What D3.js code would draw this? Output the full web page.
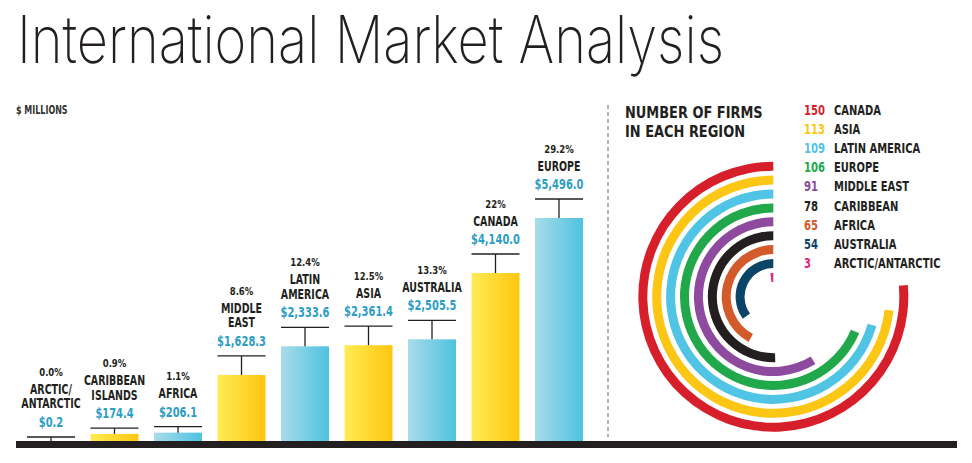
<!DOCTYPE html>
<html>
<head>
<meta charset="utf-8">
<script src="https://cdn.jsdelivr.net/npm/d3@7/dist/d3.min.js"></script>
<style>
  html, body { margin: 0; padding: 0; background: #fff; }
  svg { display: block; }
</style>
</head>
<body>
<svg id="chart" width="972" height="463"></svg>
<script>
// ---------- DATA ----------
const regions = ["ARCTIC/ANTARCTIC", "CARIBBEAN ISLANDS", "AFRICA", "MIDDLE EAST", "LATIN AMERICA", "ASIA", "AUSTRALIA", "CANADA", "EUROPE"];
const regionLines = [["ARCTIC/", "ANTARCTIC"], ["CARIBBEAN", "ISLANDS"], ["AFRICA"], ["MIDDLE", "EAST"], ["LATIN", "AMERICA"], ["ASIA"], ["AUSTRALIA"], ["CANADA"], ["EUROPE"]];
const revenue = [0.2, 174.4, 206.1, 1628.3, 2333.6, 2361.4, 2505.5, 4140.0, 5496.0];
const shareLabels = ["0.0%", "0.9%", "1.1%", "8.6%", "12.4%", "12.5%", "13.3%", "22%", "29.2%"];

const firmRegions = ["CANADA", "ASIA", "LATIN AMERICA", "EUROPE", "MIDDLE EAST", "CARIBBEAN", "AFRICA", "AUSTRALIA", "ARCTIC/ANTARCTIC"];
const firmCounts = [150, 113, 109, 106, 91, 78, 65, 54, 3];
const firmColors = ["#d71f2b", "#fcc614", "#4fc4e4", "#21a84a", "#8e4a9e", "#231f20", "#d35a2a", "#0b4468", "#e4267c"];

const title = "International Market Analysis";
const unitLabel = "$ MILLIONS";
const legendTitle = ["NUMBER OF FIRMS", "IN EACH REGION"];

// ---------- SETUP ----------
const COND = "'Liberation Sans Narrow', 'DejaVu Sans Condensed', 'Roboto Condensed', 'Arial Narrow', sans-serif";
const DARK = "#231f20";
const TEAL = "#2c9dc4";

const svg = d3.select("#chart");
svg.append("rect").attr("width", 972).attr("height", 463).attr("fill", "#fff");

const defs = svg.append("defs");
const gradY = defs.append("linearGradient").attr("id", "gY").attr("x1", "0").attr("x2", "1").attr("y1", "0").attr("y2", "0");
gradY.append("stop").attr("offset", "0").attr("stop-color", "#ffeb55");
gradY.append("stop").attr("offset", "1").attr("stop-color", "#fdc60f");
const gradB = defs.append("linearGradient").attr("id", "gB").attr("x1", "0").attr("x2", "1").attr("y1", "0").attr("y2", "0");
gradB.append("stop").attr("offset", "0").attr("stop-color", "#a8dcea");
gradB.append("stop").attr("offset", "1").attr("stop-color", "#4ec2e0");

// condensed text helper (horizontal squeeze keeps the text real)
function ctext(g, x, y, str, o) {
  return g.append("text")
    .attr("transform", `translate(${x},${y}) scale(${o.sx || 0.8},1)`)
    .attr("text-anchor", o.anchor || "start")
    .attr("font-family", COND)
    .attr("font-weight", o.weight || "bold")
    .attr("font-size", o.size)
    .attr("fill", o.fill || DARK)
    .text(str);
}

// Title
svg.append("text")
  .attr("x", 17).attr("y", 63)
  .attr("font-family", "Inter, Roboto, Lato, sans-serif")
  .attr("font-weight", 200)
  .attr("font-size", 66)
  .attr("fill", DARK)
  .attr("textLength", 707)
  .attr("lengthAdjust", "spacingAndGlyphs")
  .text(title);

ctext(svg, 16, 114, unitLabel, { size: 12, weight: 600, sx: 0.74, fill: "#333" });

// ---------- BAR CHART ----------
const x = d3.scaleBand().domain(regions).range([27, 583]).paddingInner(0.244).paddingOuter(0);
const y = d3.scaleLinear().domain([0, 5496]).range([441, 218]);

const bars = svg.append("g");
regions.forEach((r, i) => {
  const v = revenue[i];
  const x0 = x(r), bw = x.bandwidth(), cx = x0 + bw / 2;
  const top = y(v);
  const h = y(0) - top;
  bars.append("rect")
    .attr("x", x0).attr("y", top)
    .attr("width", bw).attr("height", Math.max(h, 0))
    .attr("fill", i % 2 === 0 ? "url(#gB)" : "url(#gY)");

  const off = Math.min(19, 4 + h * 0.25);
  const by = top - off;
  bars.append("line").attr("x1", x0).attr("x2", x0 + bw).attr("y1", by).attr("y2", by)
    .attr("stroke", DARK).attr("stroke-width", 1.3);
  bars.append("line").attr("x1", cx).attr("x2", cx).attr("y1", by).attr("y2", top)
    .attr("stroke", DARK).attr("stroke-width", 1.3);

  const dollarY = by - 10;
  ctext(bars, cx, dollarY, "$" + d3.format(",.1f")(v), { size: 14.5, anchor: "middle", sx: 0.76, fill: TEAL });

  const lines = regionLines[i];
  const lastY = dollarY - 18.5;
  lines.forEach((ln, j) => {
    ctext(bars, cx, lastY - (lines.length - 1 - j) * 14.5, ln, { size: 13.5, anchor: "middle", sx: 0.78 });
  });
  const firstY = lastY - (lines.length - 1) * 14.5;
  ctext(bars, cx, firstY - 18, shareLabels[i], { size: 11, anchor: "middle", sx: 0.86, weight: 600 });
});

// Baseline bar
svg.append("rect").attr("x", 16).attr("y", 441).attr("width", 941).attr("height", 7).attr("fill", DARK);

// Divider
svg.append("line").attr("x1", 608).attr("x2", 608).attr("y1", 105).attr("y2", 437)
  .attr("stroke", "#666").attr("stroke-width", 1).attr("stroke-dasharray", "4,3");

// ---------- RADIAL CHART ----------
const cxR = 773.3, cyR = 296.7;
const rBand = d3.scaleBand().domain(firmRegions).range([135, 14.8]).paddingInner(0.3525).paddingOuter(0);
const ang = d3.scaleLinear().domain([0, 100]).range([0, 233 * Math.PI / 180]);
const maxSweep = 275 * Math.PI / 180;
const arc = d3.arc();
const radial = svg.append("g").attr("transform", `translate(${cxR},${cyR})`);
firmRegions.forEach((r, i) => {
  const inner = rBand(r);
  radial.append("path")
    .attr("d", arc({
      innerRadius: inner,
      outerRadius: inner + rBand.bandwidth(),
      startAngle: 0,
      endAngle: -Math.min(ang(firmCounts[i]), maxSweep)
    }))
    .attr("fill", firmColors[i]);
});

// Legend
const legT = svg.append("g");
legendTitle.forEach((t, i) => {
  ctext(legT, 625, 118.3 + i * 18.4, t, { size: 16, sx: 0.9 });
});

const leg = svg.append("g");
firmRegions.forEach((r, i) => {
  const yy = 115 + i * 19.1;
  ctext(leg, 804, yy, firmCounts[i], { size: 14, sx: 0.8, fill: firmColors[i] });
  ctext(leg, 834, yy, r, { size: 13.5, sx: 0.82 });
});
</script>
</body>
</html>
